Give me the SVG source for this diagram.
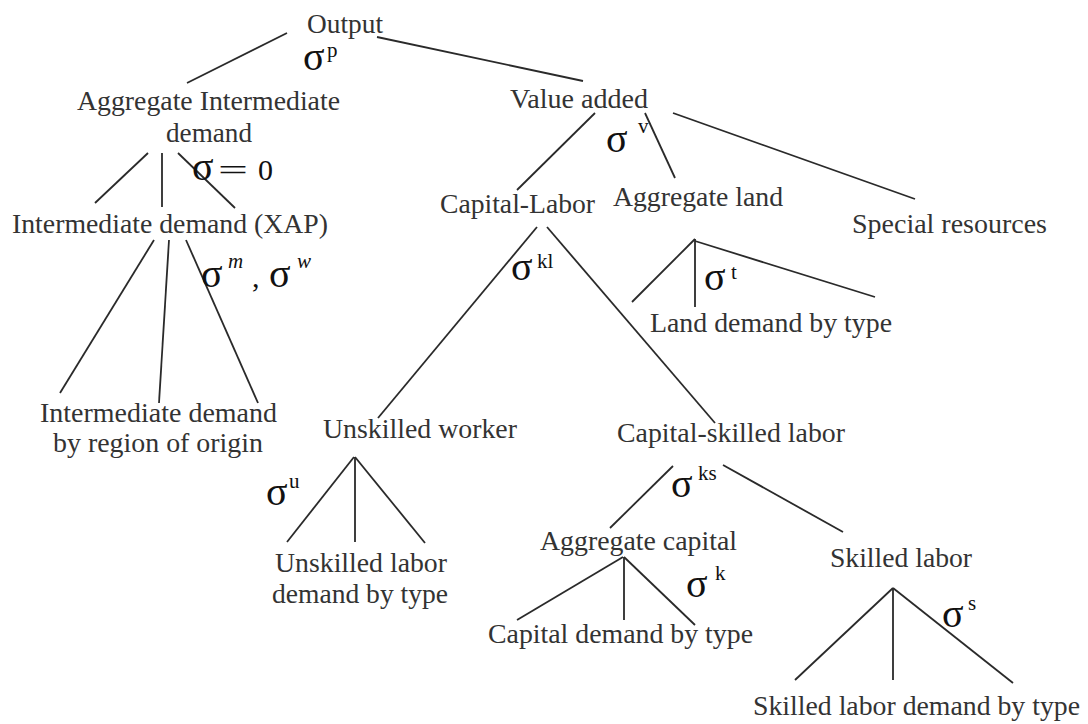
<svg xmlns="http://www.w3.org/2000/svg" width="1088" height="724" viewBox="0 0 1088 724">
<style>
.t{font-family:"Liberation Serif","Times New Roman",serif;font-size:27px;fill:#333}
.s{font-family:"Liberation Serif","Times New Roman",serif;font-size:40px;fill:#111}
.sup{font-family:"Liberation Serif","Times New Roman",serif;font-size:21px;fill:#111}
.supi{font-family:"Liberation Serif","Times New Roman",serif;font-size:21px;font-style:italic;fill:#111}
.eq{font-family:"Liberation Serif","Times New Roman",serif;font-size:30px;fill:#111}
#connectors line{stroke:#2a2a2a;stroke-width:1.8;fill:none}
</style>
<rect width="1088" height="724" fill="#fff"/>
<g id="connectors">
<line x1="287" y1="33" x2="187" y2="83"/>
<line x1="377" y1="37" x2="583" y2="81"/>
<line x1="148" y1="153" x2="95" y2="203"/>
<line x1="162" y1="153" x2="162" y2="207"/>
<line x1="178" y1="153" x2="235" y2="208"/>
<line x1="154" y1="240" x2="60" y2="393"/>
<line x1="169" y1="240" x2="159" y2="403"/>
<line x1="186" y1="240" x2="258" y2="403"/>
<line x1="595" y1="113" x2="517" y2="190"/>
<line x1="645" y1="113" x2="675" y2="178"/>
<line x1="673" y1="113" x2="915" y2="199"/>
<line x1="695" y1="239" x2="632" y2="302"/>
<line x1="695" y1="239" x2="695" y2="307"/>
<line x1="695" y1="241" x2="875" y2="297"/>
<line x1="537" y1="227" x2="378" y2="418"/>
<line x1="547" y1="227" x2="715" y2="423"/>
<line x1="354" y1="457" x2="287" y2="542"/>
<line x1="355" y1="457" x2="355" y2="542"/>
<line x1="355" y1="457" x2="425" y2="543"/>
<line x1="673" y1="466" x2="610" y2="528"/>
<line x1="723" y1="465" x2="843" y2="532"/>
<line x1="623" y1="557" x2="517" y2="620"/>
<line x1="624" y1="557" x2="624" y2="620"/>
<line x1="624" y1="557" x2="695" y2="625"/>
<line x1="893" y1="588" x2="795" y2="680"/>
<line x1="893" y1="588" x2="893" y2="680"/>
<line x1="893" y1="588" x2="1013" y2="683"/>
</g>
<g id="output">
<text class="t" x="307" y="33" textLength="76" lengthAdjust="spacingAndGlyphs">Output</text>
<text class="s" x="303" y="70">σ</text><text class="sup" x="327" y="57" font-size="20">p</text>
</g>
<g id="agg-intermediate">
<text class="t" x="77" y="110" textLength="263" lengthAdjust="spacingAndGlyphs">Aggregate Intermediate</text>
<text class="t" x="166" y="142" textLength="86" lengthAdjust="spacingAndGlyphs">demand</text>
<text class="s" x="192" y="180">σ</text>
<text class="eq" x="218" y="180" textLength="30" lengthAdjust="spacingAndGlyphs">=</text>
<text class="eq" x="258" y="180" font-size="30">0</text>
</g>
<g id="intermediate-xap">
<text class="t" x="12" y="233" textLength="316" lengthAdjust="spacingAndGlyphs">Intermediate demand (XAP)</text>
<text class="s" x="201" y="287">σ</text><text class="supi" x="228" y="268">m</text>
<text class="eq" x="252" y="287">,</text>
<text class="s" x="269" y="287">σ</text><text class="supi" x="297" y="268">w</text>
</g>
<g id="intermediate-origin">
<text class="t" x="40" y="422" textLength="237" lengthAdjust="spacingAndGlyphs">Intermediate demand</text>
<text class="t" x="53" y="452" textLength="210" lengthAdjust="spacingAndGlyphs">by region of origin</text>
</g>
<g id="value-added">
<text class="t" x="510" y="108" textLength="138" lengthAdjust="spacingAndGlyphs">Value added</text>
<text class="s" x="606" y="152">σ</text><text class="sup" x="638" y="133">v</text>
</g>
<g id="capital-labor">
<text class="t" x="440" y="213" textLength="155" lengthAdjust="spacingAndGlyphs">Capital-Labor</text>
<text class="s" x="511" y="280">σ</text><text class="sup" x="537" y="268">kl</text>
</g>
<g id="aggregate-land">
<text class="t" x="613" y="206" textLength="170" lengthAdjust="spacingAndGlyphs">Aggregate land</text>
<text class="s" x="704" y="290">σ</text><text class="sup" x="731" y="279">t</text>
</g>
<g id="special-resources">
<text class="t" x="852" y="233" textLength="195" lengthAdjust="spacingAndGlyphs">Special resources</text>
</g>
<g id="land-demand">
<text class="t" x="650" y="332" textLength="242" lengthAdjust="spacingAndGlyphs">Land demand by type</text>
</g>
<g id="unskilled-worker">
<text class="t" x="323" y="438" textLength="194" lengthAdjust="spacingAndGlyphs">Unskilled worker</text>
<text class="s" x="266" y="505">σ</text><text class="sup" x="289" y="488">u</text>
</g>
<g id="unskilled-demand">
<text class="t" x="275" y="572" textLength="172" lengthAdjust="spacingAndGlyphs">Unskilled labor</text>
<text class="t" x="272" y="603" textLength="176" lengthAdjust="spacingAndGlyphs">demand by type</text>
</g>
<g id="capital-skilled">
<text class="t" x="617" y="442" textLength="228" lengthAdjust="spacingAndGlyphs">Capital-skilled labor</text>
<text class="s" x="671" y="497">σ</text><text class="sup" x="698" y="480">ks</text>
</g>
<g id="aggregate-capital">
<text class="t" x="540" y="550" textLength="197" lengthAdjust="spacingAndGlyphs">Aggregate capital</text>
<text class="s" x="686" y="597">σ</text><text class="sup" x="715" y="580">k</text>
</g>
<g id="capital-demand">
<text class="t" x="488" y="643" textLength="265" lengthAdjust="spacingAndGlyphs">Capital demand by type</text>
</g>
<g id="skilled-labor">
<text class="t" x="830" y="567" textLength="142" lengthAdjust="spacingAndGlyphs">Skilled labor</text>
<text class="s" x="942" y="627">σ</text><text class="sup" x="968" y="610">s</text>
</g>
<g id="skilled-demand">
<text class="t" x="753" y="715" textLength="327" lengthAdjust="spacingAndGlyphs">Skilled labor demand by type</text>
</g>
</svg>
